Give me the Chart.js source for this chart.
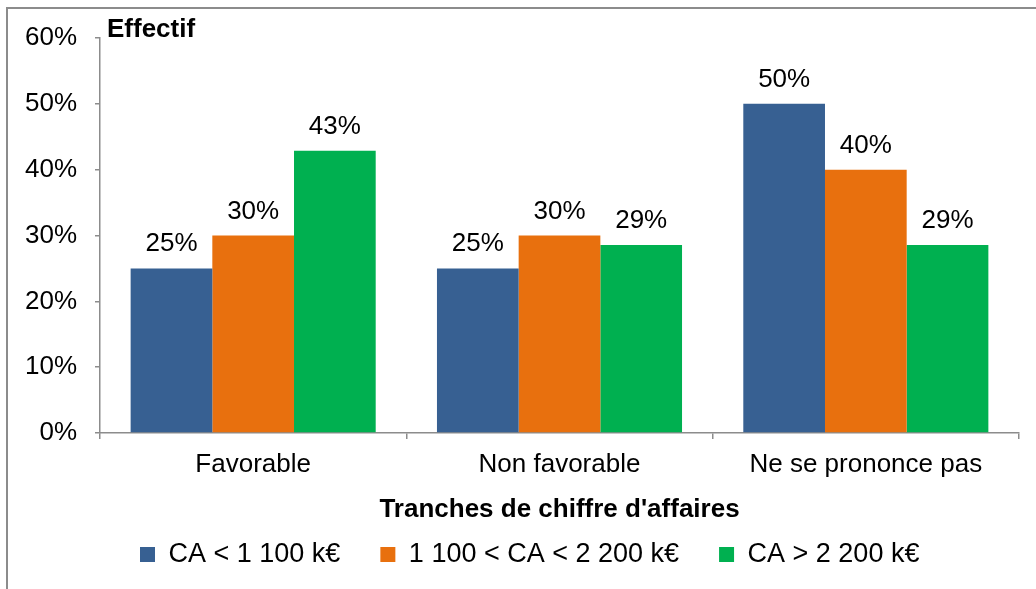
<!DOCTYPE html>
<html>
<head>
<meta charset="utf-8">
<script src="https://cdn.jsdelivr.net/npm/chart.js@4/dist/chart.umd.min.js"></script>
<style>
  body { margin: 0; overflow: hidden; background: #fff; }
  #frame {
    position: absolute; left: 6px; top: 7px; width: 2000px; height: 2000px;
    border-left: 2px solid #8c8c8c; border-top: 2px solid #8c8c8c;
  }
  #wrap { position: absolute; left: 0; top: 0; width: 1036px; height: 589px; }
</style>
</head>
<body>
<div id="frame"></div>
<div id="wrap"><canvas id="myChart" width="1036" height="589"></canvas></div>
<script>
const categories = ["Favorable", "Non favorable", "Ne se prononce pas"];
const seriesNames = ["CA < 1 100 k€", "1 100 < CA < 2 200 k€", "CA > 2 200 k€"];
const petitCA = [25, 25, 50];
const moyenCA = [30, 30, 40];
const grandCA = [42.86, 28.57, 28.57];
const yTicks = [0, 10, 20, 30, 40, 50, 60];

const colors = ["#376092", "#E8700E", "#00B050"];
const fontName = "'Liberation Sans', Arial, sans-serif";

// valeurs au-dessus des barres
const valueLabels = {
  id: "valueLabels",
  afterDatasetsDraw(chart) {
    let ctx = chart.ctx;
    ctx.save();
    ctx.font = "26px " + fontName;
    ctx.fillStyle = "#000";
    ctx.textAlign = "center";
    ctx.textBaseline = "alphabetic";
    chart.data.datasets.forEach((ds, i) => {
      chart.getDatasetMeta(i).data.forEach((bar, j) => {
        ctx.fillText(Math.round(ds.data[j]) + "%", bar.x, bar.y - 17);
      });
    });
    // titre "Effectif"
    ctx.font = "bold 26px " + fontName;
    ctx.textAlign = "left";
    ctx.fillText("Effectif", chart.chartArea.left + 7, 37);
    ctx.restore();
  },
};

new Chart("myChart", {
  type: "bar",
  data: {
    labels: categories,
    datasets: [
      { label: seriesNames[0], data: petitCA, backgroundColor: colors[0] },
      { label: seriesNames[1], data: moyenCA, backgroundColor: colors[1] },
      { label: seriesNames[2], data: grandCA, backgroundColor: colors[2] },
    ],
  },
  options: {
    responsive: false,
    animation: false,
    layout: { padding: { left: 0, top: 38, right: 17, bottom: 11 } },
    datasets: { bar: { categoryPercentage: 0.8, barPercentage: 1.0 } },
    plugins: {
      tooltip: { enabled: false },
      legend: {
        position: "bottom",
        align: "start",
        fullSize: false,
        labels: {
          boxWidth: 15,
          boxHeight: 15,
          padding: 40,
          color: "#000",
          font: { family: fontName, size: 27 },
        },
      },
    },
    scales: {
      x: {
        afterFit: (scale) => { scale.height = 68; },
        border: { color: "#8c8c8c", width: 1.5 },
        grid: { drawOnChartArea: false, tickLength: 6, color: "#8c8c8c", lineWidth: 1.5 },
        ticks: { color: "#000", padding: 10, font: { family: fontName, size: 26 } },
        title: {
          display: true,
          text: "Tranches de chiffre d'affaires",
          color: "#000",
          padding: { top: 0, bottom: -24 },
          font: { family: fontName, size: 26, weight: "bold" },
        },
      },
      y: {
        min: 0,
        max: 60,
        afterFit: (scale) => { scale.width = 100; },
        afterBuildTicks: (scale) => { scale.ticks = yTicks.map((v) => ({ value: v })); },
        border: { color: "#8c8c8c", width: 1.5 },
        grid: { drawOnChartArea: false, tickLength: 5, color: "#8c8c8c", lineWidth: 1.5 },
        ticks: {
          color: "#000",
          padding: 18,
          font: { family: fontName, size: 26 },
          callback: (v) => v + "%",
        },
      },
    },
  },
  plugins: [valueLabels],
});
</script>
</body>
</html>
